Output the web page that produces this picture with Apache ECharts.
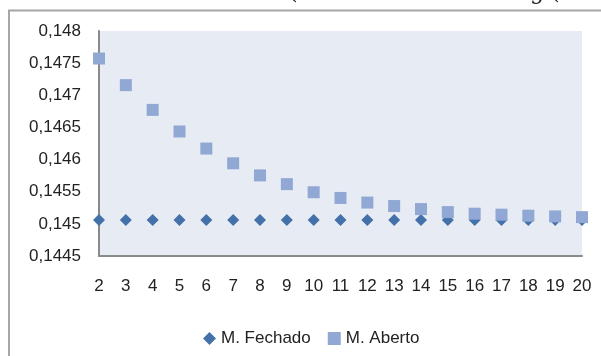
<!DOCTYPE html>
<html>
<head>
<meta charset="utf-8">
<script src="https://cdn.jsdelivr.net/npm/echarts@6/dist/echarts.min.js"></script>
<style>
  html, body { margin: 0; padding: 0; background: #ffffff; }
  #chart { width: 601px; height: 356px; }
</style>
</head>
<body>
<div id="chart"></div>
<script>
// Number of elements (x axis)
var categories = ['2','3','4','5','6','7','8','9','10','11','12','13','14','15','16','17','18','19','20'];

// Closed model
var fechado = [0.14506,0.14506,0.14506,0.14506,0.14506,0.14506,0.14506,0.14506,0.14506,0.14506,
               0.14506,0.14506,0.14506,0.14506,0.14506,0.14506,0.14506,0.14506,0.14506];

// Open model
var aberto = [0.147572,0.147158,0.146773,0.146437,0.146171,0.145942,0.145754,0.145618,0.145492,0.145403,
              0.145331,0.145277,0.14523,0.145183,0.145158,0.145143,0.145127,0.145116,0.145105];

// Y axis range and step
var yMin = 0.1445, yMax = 0.148, yStep = 0.0005;

var FONT = 'Liberation Sans';

var chart = echarts.init(document.getElementById('chart'), null, { renderer: 'canvas' });

chart.setOption({
  animation: false,
  backgroundColor: '#ffffff',
  textStyle: { fontFamily: FONT },
  graphic: [
    // outer chart frame (runs past the right and bottom edges)
    { type: 'rect', z: -1, shape: { x: 9, y: 10.5, width: 700, height: 400 },
      style: { fill: 'none', stroke: '#a6a6a6', lineWidth: 2 } },
    // tail of the heading above the frame
    { type: 'text', style: { text: '(', x: 289, y: -18, font: '22px "DejaVu Serif"', fill: '#222' } },
    { type: 'text', style: { text: 'g (', x: 530, y: -18, font: '22px "DejaVu Serif"', fill: '#222' } }
  ],
  grid: { left: 99, top: 31, right: 19, bottom: 100, show: true, backgroundColor: '#e7ebf3', borderWidth: 0 },
  legend: {
    left: 198, top: 325,
    itemGap: 17, itemWidth: 13, itemHeight: 13,
    textStyle: { fontFamily: FONT, fontSize: 17, color: '#222' },
    data: [
      { name: 'M. Fechado', icon: 'diamond' },
      { name: 'M. Aberto', icon: 'rect' }
    ]
  },
  xAxis: {
    type: 'category',
    data: categories,
    boundaryGap: false,
    axisLine: { lineStyle: { color: '#8a8a8a', width: 2 } },
    axisTick: { show: false },
    axisLabel: { fontFamily: FONT, fontSize: 17, color: '#222', margin: 22, interval: 0 },
    splitLine: { show: false }
  },
  yAxis: {
    type: 'value',
    min: yMin, max: yMax, interval: yStep,
    axisLine: { show: true, lineStyle: { color: '#8a8a8a', width: 2 } },
    axisTick: { show: false },
    splitLine: { show: false },
    axisLabel: {
      fontFamily: FONT, fontSize: 17, color: '#222', margin: 18,
      formatter: function (v) { return String(+v.toFixed(4)).replace('.', ','); }
    }
  },
  series: [
    {
      name: 'M. Fechado', type: 'line', data: fechado,
      symbol: 'diamond', symbolSize: 12,
      lineStyle: { width: 0, opacity: 0 },
      itemStyle: { color: '#4471a9' }
    },
    {
      name: 'M. Aberto', type: 'line', data: aberto,
      symbol: 'rect', symbolSize: 12,
      lineStyle: { width: 0, opacity: 0 },
      itemStyle: { color: '#91a8d5' }
    }
  ]
});
</script>
</body>
</html>
